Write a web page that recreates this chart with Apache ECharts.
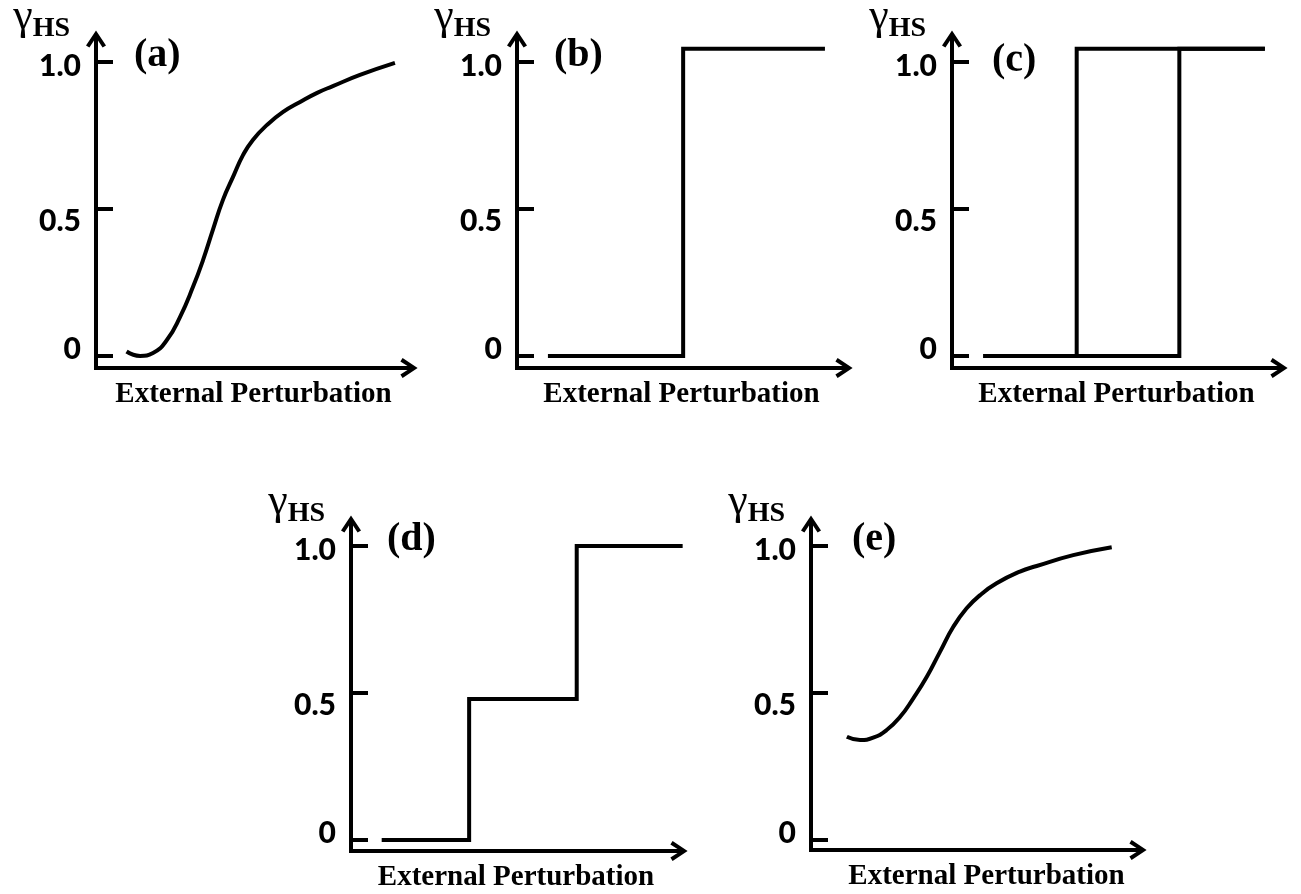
<!DOCTYPE html>
<html><head><meta charset="utf-8">
<script src="https://cdn.jsdelivr.net/npm/echarts@6/dist/echarts.min.js"></script>
<style>html,body{margin:0;padding:0;background:#fff}#c{width:1301px;height:894px}</style>
</head><body><div id="c"></div>
<script>
// ---- data ----
const panelLabels = ['(a)', '(b)', '(c)', '(d)', '(e)'];
const yTickValues = [0, 0.5, 1];
const yTickLabels = ['0', '0.5', '1.0'];
const xAxisTitle = 'External Perturbation';
const yAxisSymbol = 'γ';
const yAxisSub = 'HS';

// (a) smooth sigmoid starting from 0
const aX = [0.97, 1.40, 1.81, 2.25, 2.67, 3.08, 3.40, 3.71, 4.03, 4.35, 4.67, 4.98, 5.43, 5.94, 6.48, 7.02, 7.52, 8.38, 9.49];
const aY = [0.015, 0.0, 0.010, 0.054, 0.133, 0.235, 0.327, 0.429, 0.531, 0.609, 0.684, 0.735, 0.786, 0.830, 0.864, 0.895, 0.918, 0.956, 0.997];
// (b) single sharp step
const bX = [0.94, 5.05, 5.05, 9.36];
const bY = [0, 0, 1.045, 1.045];
// (c) hysteresis loop (forward and backward branches)
const cFwdX = [0.95, 6.91, 6.91, 9.51];
const cFwdY = [0, 0, 1.045, 1.045];
const cBwdX = [9.51, 3.79, 3.79, 0.95];
const cBwdY = [1.045, 1.045, 0, 0];
// (d) two-step transition
const dX = [0.93, 3.58, 3.58, 6.84, 6.84, 10.05];
const dY = [0, 0, 0.48, 0.48, 1.0, 1.0];
// (e) smooth rise from a non-zero start
const eX = [1.09, 1.49, 1.89, 2.30, 2.71, 3.11, 3.52, 3.92, 4.33, 4.73, 5.14, 5.64, 6.35, 6.86, 7.97, 9.14];
const eY = [0.351, 0.340, 0.348, 0.374, 0.419, 0.482, 0.555, 0.640, 0.726, 0.788, 0.833, 0.873, 0.913, 0.932, 0.969, 0.996];

// ---- layout ----
const zip = (xs, ys) => xs.map((x, i) => [x, ys[i]]);
const panels = [
  { grid: { left: 96, top: 37, width: 315, height: 331 }, yMin: -0.041, yMax: 1.085, title: { left: 134, top: 36 }, lines: [{ d: zip(aX, aY), smooth: true }] },
  { grid: { left: 517, top: 37, width: 329, height: 331 }, yMin: -0.041, yMax: 1.085, title: { left: 554, top: 36 }, lines: [{ d: zip(bX, bY) }] },
  { grid: { left: 952, top: 37, width: 329, height: 331 }, yMin: -0.041, yMax: 1.085, title: { left: 992, top: 41 }, lines: [{ d: zip(cFwdX, cFwdY) }, { d: zip(cBwdX, cBwdY) }] },
  { grid: { left: 351, top: 522, width: 330, height: 329 }, yMin: -0.0374, yMax: 1.0816, title: { left: 387, top: 520 }, lines: [{ d: zip(dX, dY) }] },
  { grid: { left: 811, top: 522, width: 329, height: 328 }, yMin: -0.034, yMax: 1.0816, title: { left: 852, top: 520 }, lines: [{ d: zip(eX, eY), smooth: true }], namePad: 22 }
];

const arrowPath = 'path://M10,0 L20,15 L16.6,17.2 L12,10.1 L12,17.2 L8,17.2 L8,10.1 L3.4,17.2 L0,15 Z';
const axisLineStyle = { color: '#000', width: 4, cap: 'square' };
const labelFont = { fontFamily: 'Lato', fontWeight: 900, fontSize: 30, color: '#000' };

const option = {
  animation: false,
  backgroundColor: '#fff',
  title: panels.map((p, i) => ({
    text: panelLabels[i], left: p.title.left, top: p.title.top, padding: 0,
    textStyle: { fontFamily: 'Liberation Serif', fontWeight: 'bold', fontSize: 40, color: '#000' }
  })),
  grid: panels.map(p => Object.assign({ outerBoundsMode: 'none', containLabel: false }, p.grid)),
  xAxis: panels.map((p, i) => ({
    gridIndex: i, type: 'value', min: 0, max: 10,
    axisLine: { show: true, onZero: false, symbol: ['none', arrowPath], symbolSize: [20, 17.2], symbolOffset: [0, -2], lineStyle: axisLineStyle },
    axisTick: { show: false }, axisLabel: { show: false }, splitLine: { show: false },
    name: xAxisTitle, nameLocation: 'middle', nameGap: 12, nameMoveOverlap: false,
    nameTextStyle: { fontFamily: 'Liberation Serif', fontWeight: 'bold', fontSize: 29, color: '#000', padding: [0, 0, 0, p.namePad || 0] }
  })),
  yAxis: panels.map((p, i) => ({
    gridIndex: i, type: 'value', min: p.yMin, max: p.yMax,
    axisLine: { show: true, onZero: false, symbol: ['none', arrowPath], symbolSize: [20, 17.2], symbolOffset: [0, -2], lineStyle: axisLineStyle },
    axisTick: { show: true, inside: true, length: 17, customValues: yTickValues, lineStyle: { color: '#000', width: 4 } },
    axisLabel: {
      show: true, customValues: yTickValues, margin: 15,
      formatter: v => { const k = yTickValues.indexOf(v); return '{t' + k + '|' + yTickLabels[k] + '}'; },
      rich: {
        t0: Object.assign({ padding: [0, 0, 14, 0] }, labelFont),
        t1: Object.assign({ padding: [24, 0, 0, 0] }, labelFont),
        t2: Object.assign({ padding: [8, 0, 0, 0] }, labelFont)
      }
    },
    splitLine: { show: false },
    name: '{g|' + yAxisSymbol + '}{s|' + yAxisSub + '}', nameLocation: 'end', nameGap: -6, nameMoveOverlap: false,
    nameTextStyle: {
      align: 'right', verticalAlign: 'bottom', padding: [0, 26, 0, 0],
      rich: {
        g: { fontFamily: 'Liberation Serif', fontSize: 44, color: '#000', verticalAlign: 'bottom', padding: [0, 0, 4, 0] },
        s: { fontFamily: 'Liberation Serif', fontWeight: 'bold', fontSize: 28, color: '#000', verticalAlign: 'bottom' }
      }
    }
  })),
  series: panels.flatMap((p, i) => p.lines.map(l => ({
    type: 'line', xAxisIndex: i, yAxisIndex: i, data: l.d, smooth: l.smooth || false,
    showSymbol: false, symbol: 'none', clip: false,
    lineStyle: { color: '#000', width: 4, join: 'miter' }
  })))
};
const chart = echarts.init(document.getElementById('c'), null, { renderer: 'canvas' });
chart.setOption(option);
</script></body></html>
